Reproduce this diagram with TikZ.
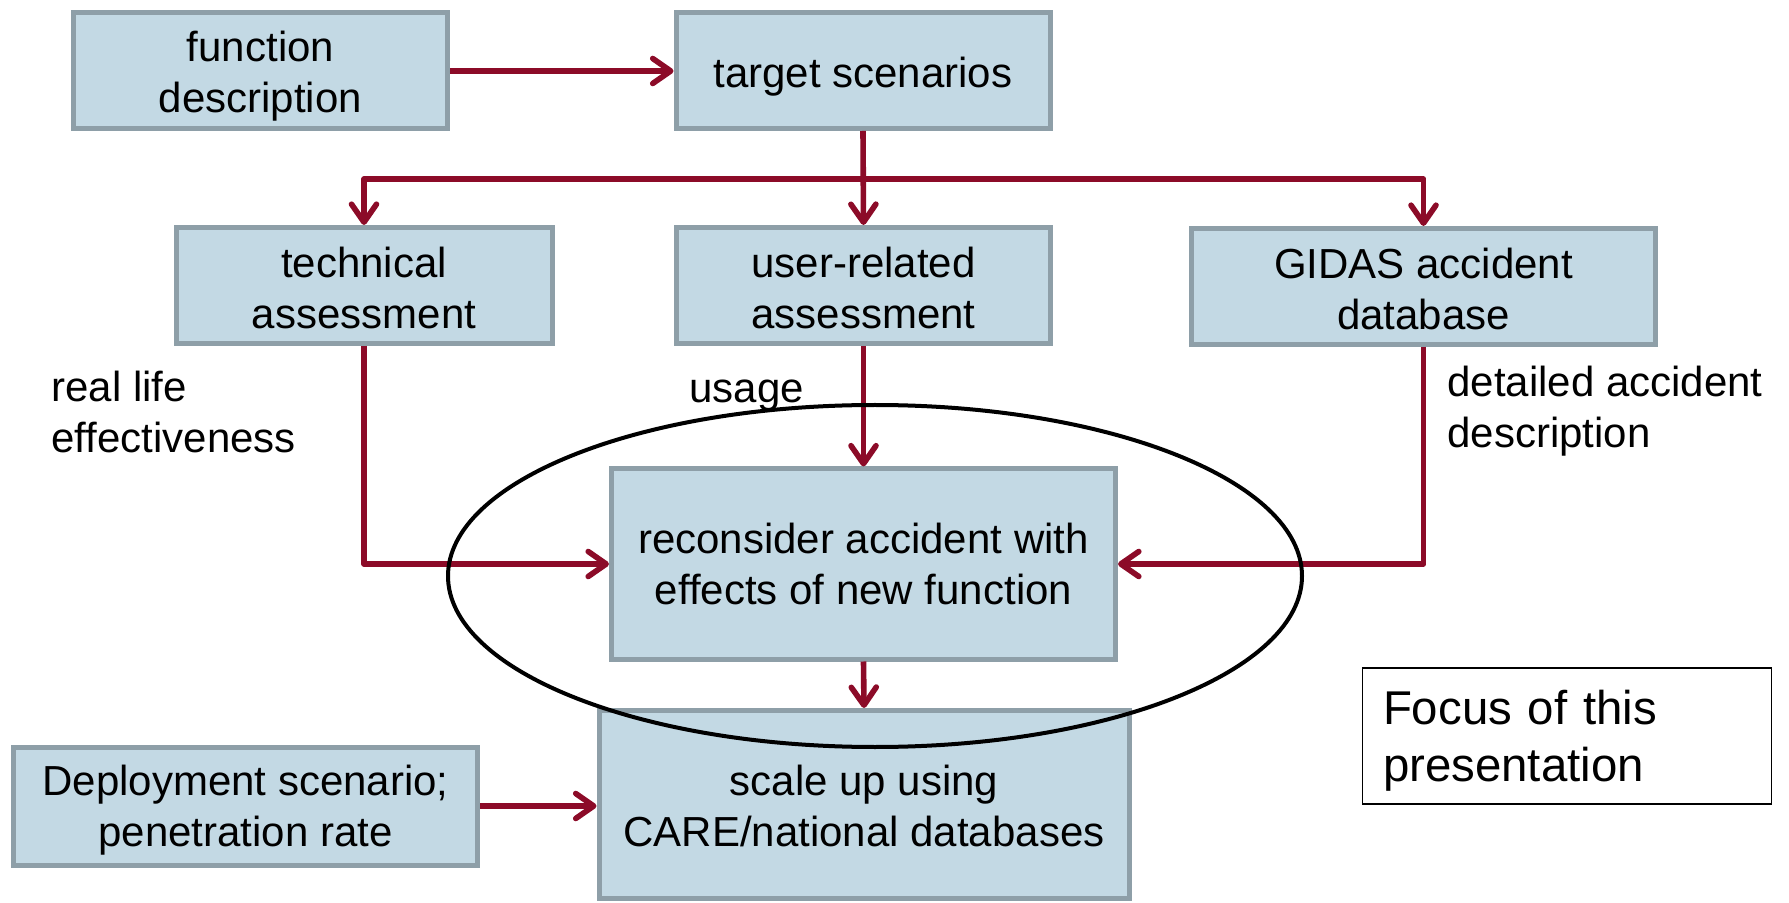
\documentclass[tikz,border=0pt]{standalone}
\usepackage{fontspec}
\setmainfont{Liberation Sans}
\usetikzlibrary{arrows.meta}

\definecolor{boxfill}{HTML}{C3D9E4}
\definecolor{boxline}{HTML}{8E9FA8}
\definecolor{flowred}{HTML}{8C0B28}

\tikzset{
  stepbox/.style={draw=boxline, fill=boxfill, line width=2.5pt, rectangle, inner sep=0pt},
  boxtext/.style={align=center, inner sep=0pt, font=\fontsize{21}{25.5}\selectfont},
  flow/.style={draw=flowred, line width=2.8pt, line join=round,
    -{Straight Barb[length=9pt,width=12.5pt,line cap=round,line join=round]}},
  label/.style={inner sep=0pt, align=left, font=\fontsize{21}{25.5}\selectfont},
}

\begin{document}
\begin{tikzpicture}[x=0.5pt, y=-0.5pt]
  \fill[white] (0,0) rectangle (1789,903);
  \useasboundingbox (0,0) rectangle (1789,903);

  % boxes
  \node[stepbox, minimum width=187pt, minimum height=58pt] (func) at (260.5,70.5) {};
  \node[stepbox, minimum width=187pt, minimum height=58pt] (target) at (863,70.5) {};
  \node[stepbox, minimum width=188pt, minimum height=58pt] (tech) at (364,285.5) {};
  \node[stepbox, minimum width=187pt, minimum height=58pt] (user) at (863.5,285.5) {};
  \node[stepbox, minimum width=232pt, minimum height=58pt] (gidas) at (1423.5,286.5) {};
  \node[stepbox, minimum width=252pt, minimum height=95pt] (recon) at (863.5,564) {};
  \node[stepbox, minimum width=265pt, minimum height=94pt] (scale) at (864,804.5) {};
  \node[stepbox, minimum width=232pt, minimum height=59pt] (deploy) at (245.5,806) {};

  % box texts
  \node[boxtext] (functext) at ([yshift=-3pt]func.center) {function\\description};
  \node[boxtext] (targettext) at ([yshift=-3pt]target.center) {target scenarios};
  \node[boxtext] (techtext) at ([yshift=-1.2pt]tech.center) {technical\\assessment};
  \node[boxtext] (usertext) at ([yshift=-1.2pt]user.center) {user-related\\assessment};
  \node[boxtext] (gidastext) at ([yshift=-1pt]gidas.center) {GIDAS accident\\database};
  \node[boxtext] (recontext) at (recon.center) {reconsider accident with\\effects of new function};
  \node[boxtext] (scaletext) at ([yshift=-0.9pt]scale.center) {scale up using\\CARE/national databases};
  \node[boxtext] (deploytext) at ([yshift=-2pt]deploy.center) {Deployment scenario;\\penetration rate};

  % junction of the branch line
  \coordinate (branch) at (863.5,179);

  % connectors
  \draw[flow] (func.east |- 0,71) -- (target.west |- 0,71);
  \draw[flow] (target.south) -- (user.north);
  \draw[flow] (branch) -| (tech.north);
  \draw[flow] (branch) -| (gidas.north);
  \draw[flow] (tech.south) |- (recon.west);
  \draw[flow] (gidas.south) |- (recon.east);
  \draw[flow] (user.south) -- (recon.north);
  \draw[flow] (recon.south) -- (scale.north);
  \draw[flow] (deploy.east) -- (scale.west |- deploy.east);

  % edge labels
  \node[label, anchor=north west] (lblreal) at (51,371) {real life\\effectiveness};
  \node[label, anchor=base west] (lblusage) at (689,403) {usage};
  \node[label, anchor=north west] (lbldetail) at (1447,366) {detailed accident\\description};

  % highlighted area
  \draw[black, line width=2pt] (875,576) ellipse [x radius=213.5pt, y radius=85.5pt];

  % legend
  \node[draw=black, line width=0.8pt, fill=white, minimum width=204.5pt,
        minimum height=68pt] (focus) at (1567,736) {};
  \node[inner sep=0pt, align=left, text width=184pt, font=\fontsize{23.7}{28.5}\selectfont]
        (focustext) at ([yshift=-2.6pt]focus.center) {Focus of this\\presentation};
\end{tikzpicture}
\end{document}
